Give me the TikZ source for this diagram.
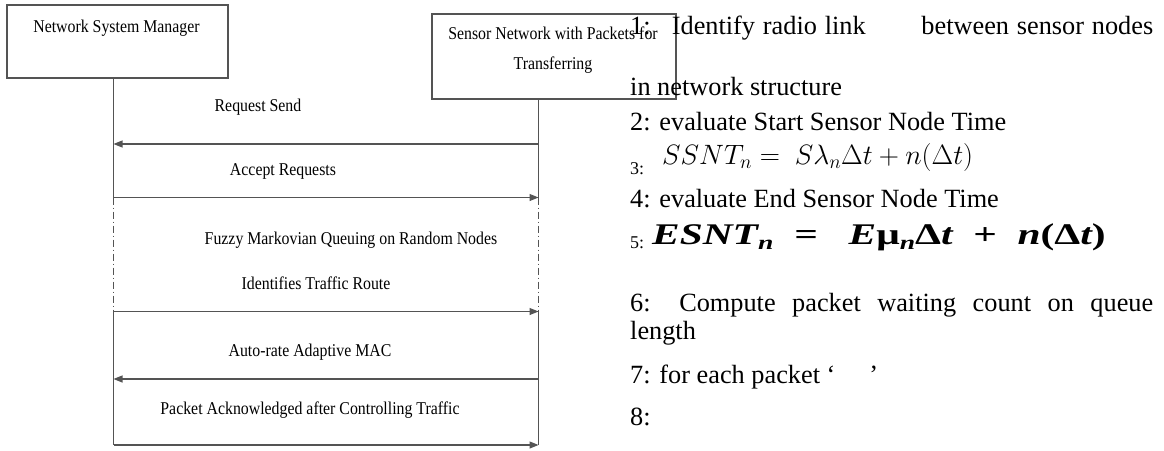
\RequirePackage{fix-cm}
\documentclass[tikz,border=0pt]{standalone}
\usepackage{fontspec}
\setmainfont{Liberation Serif}
\newfontfamily\lblfont[FakeStretch=0.88]{Liberation Serif}
\newfontfamily\esntfont[FakeStretch=1.38]{Liberation Serif}
\usetikzlibrary{arrows.meta}
\definecolor{ln}{gray}{0.33}
\newcommand\subn{\lower5pt\hbox{\fontsize{20}{20}\selectfont n}}
\newcommand\esntformula{{\esntfont\bfseries\itshape ESNT\subn\ \ =\ \ \ E\upshape μ\itshape\subn\upshape Δ\itshape t\ \ \upshape+\ \ \itshape n\upshape(Δ\itshape t\upshape)}}
\newcommand\ssntformula{$SSNT_n =\ S\lambda_n\Delta t + n(\Delta t)$}
\begin{document}
\begin{tikzpicture}[x=1pt,y=-1pt,
  box/.style={draw=ln, line width=1.1pt, inner sep=0pt},
  lbl/.style={font=\lblfont\fontsize{18}{30}\selectfont, inner sep=0pt},
  txt/.style={font=\fontsize{26.3}{30}\selectfont, inner sep=0pt, anchor=base west},
  mathtxt/.style={font=\fontsize{28}{32}\selectfont, inner sep=0pt, anchor=base west},
  bigtxt/.style={font=\fontsize{30}{32}\selectfont, inner sep=0pt, anchor=base west},
  smalltxt/.style={font=\fontsize{18}{22}\selectfont, inner sep=0pt, anchor=base west},
  life/.style={draw=ln, line width=1.1pt},
  lifedash/.style={draw=ln, line width=0.9pt, dash pattern=on 7pt off 3pt on 1pt off 3pt},
  msg/.style={draw=ln, line width=1.1pt, -{Triangle[length=9pt,width=7pt]}},
]
\useasboundingbox (0,0) rectangle (1164,450);

% boxes
\node[box, minimum width=221pt, minimum height=73pt] (mgr) at (117.5,41.5) {};
\node[lbl] (mgrtxt) at (116.5,28) {Network System Manager};
\node[box, minimum width=244pt, minimum height=85pt] (sen) at (554,56.5) {};
\node[lbl, align=center] (sentxt) at (553,50) {Sensor Network with Packets for\\Transferring};

% lifeline coordinates
\coordinate (A0) at (113.5,78);
\coordinate (A1) at (113.5,144);
\coordinate (A2) at (113.5,197.5);
\coordinate (A3) at (113.5,311.5);
\coordinate (A4) at (113.5,379);
\coordinate (A5) at (113.5,445);
\coordinate (B0) at (538.5,99);
\coordinate (B1) at (538.5,144);
\coordinate (B2) at (538.5,197.5);
\coordinate (B3) at (538.5,311.5);
\coordinate (B4) at (538.5,379);
\coordinate (B5) at (538.5,445);

% lifelines
\draw[life] (A0) -- (A2);
\draw[lifedash] (A2) -- (A3);
\draw[life] (A3) -- (A5);
\draw[life] (B0) -- (B2);
\draw[lifedash] (B2) -- (B3);
\draw[life] (B3) -- (B5);

% messages
\draw[msg] (B1) -- (A1);
\draw[msg] (A2) -- (B2);
\draw[msg] (A3) -- (B3);
\draw[msg] (B4) -- (A4);
\draw[msg] (A5) -- (B5);

% message labels
\node[lbl] (m1) at (258,107) {Request Send};
\node[lbl] (m2) at (283,171) {Accept Requests};
\node[lbl] (m3) at (351,240) {Fuzzy Markovian Queuing on Random Nodes};
\node[lbl] (m4) at (316,283) {Identifies Traffic Route};
\node[lbl] (m5) at (310,352) {Auto-rate Adaptive MAC};
\node[lbl] (m6) at (310,410) {Packet Acknowledged after Controlling Traffic};

% algorithm text
\node[txt] (t1) at (630,34) {\makebox[523pt][s]{1:\hspace{10pt} Identify radio link\hspace{48pt} between sensor nodes}};
\node[txt] (t2) at (630,95) {in network structure};
\node[txt] (t3) at (630,130) {2: evaluate Start Sensor Node Time};
\node[smalltxt] (n3) at (630,174) {3:};
\node[mathtxt] (f3) at (662,164) {\ssntformula};
\node[txt] (t4) at (630,207) {4: evaluate End Sensor Node Time};
\node[smalltxt] (n5) at (630,248) {5:};
\node[bigtxt] (f5) at (652,244) {\esntformula};
\node[txt] (t6) at (630,311) {\makebox[523pt][s]{6: Compute packet waiting count on queue}};
\node[txt] (t6b) at (630,339) {length};
\node[txt] (t7) at (630,383) {7: for each packet ‘\hspace{34pt}’};
\node[txt] (t8) at (630,425) {8:};
\end{tikzpicture}
\end{document}
